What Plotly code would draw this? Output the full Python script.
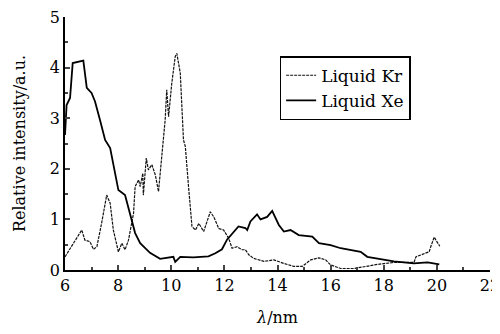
import plotly.graph_objects as go

# Liquid Xe (solid)
xe_x = [6.0, 6.06, 6.19, 6.29, 6.69, 6.82, 7.0, 7.13, 7.32, 7.51, 7.7, 7.89, 8.01, 8.26, 8.45,
        8.64, 8.83, 9.2, 9.58, 9.9, 10.08, 10.15, 10.34, 10.83, 11.4, 11.66, 11.91, 12.1, 12.29,
        12.53, 12.79, 12.86, 12.98, 13.23, 13.36, 13.61, 13.8, 14.05, 14.24, 14.49, 14.8, 15.31,
        15.56, 16.0, 16.38, 16.87, 17.13, 17.38, 17.89, 18.38, 19.13, 19.65, 20.09]
xe_y = [2.67, 3.26, 3.4, 4.09, 4.14, 3.6, 3.5, 3.33, 2.96, 2.57, 2.41, 1.94, 1.58, 1.48, 1.13,
        0.73, 0.53, 0.34, 0.22, 0.25, 0.26, 0.16, 0.26, 0.25, 0.27, 0.33, 0.41, 0.6, 0.72,
        0.86, 0.83, 0.79, 0.96, 1.1, 1.0, 1.05, 1.17, 0.89, 0.76, 0.79, 0.69, 0.66,
        0.53, 0.49, 0.43, 0.39, 0.36, 0.26, 0.21, 0.17, 0.13, 0.15, 0.11]

# Liquid Kr (dotted)
kr_x = [6.0, 6.31, 6.63, 6.75, 6.94, 7.07, 7.2, 7.38, 7.57, 7.7, 7.82, 8.01, 8.14, 8.26, 8.39,
        8.58, 8.64, 8.77, 8.83, 8.93, 8.95, 9.06, 9.14, 9.27, 9.4, 9.52, 9.65, 9.77, 9.83, 9.9,
        10.02, 10.15, 10.21, 10.34, 10.46, 10.53, 10.65, 10.78, 10.91, 11.04, 11.22, 11.47,
        11.6, 11.79, 11.97, 12.16, 12.29, 12.48, 12.67, 12.79, 12.92, 13.1, 13.49, 13.86,
        14.24, 14.62, 14.93, 15.25, 15.56, 15.81, 16.0, 16.38, 16.87, 17.25, 17.76, 18.38,
        18.83, 19.14, 19.21, 19.46, 19.71, 19.77, 19.9, 20.0, 20.11]
kr_y = [0.26, 0.53, 0.79, 0.59, 0.56, 0.41, 0.46, 0.93, 1.48, 1.32, 0.79, 0.36, 0.53, 0.4, 0.59,
        1.12, 1.65, 1.78, 1.65, 1.91, 1.48, 2.21, 1.98, 2.08, 1.88, 1.55, 2.24, 2.96, 3.56, 3.03,
        3.69, 4.22, 4.28, 3.89, 2.57, 2.44, 1.65, 0.86, 0.79, 0.92, 0.76, 1.15,
        1.05, 0.82, 0.79, 0.63, 0.43, 0.46, 0.4, 0.4, 0.3, 0.23, 0.17, 0.2,
        0.13, 0.07, 0.07, 0.2, 0.24, 0.2, 0.1, 0.03, 0.03, 0.07, 0.11, 0.15,
        0.15, 0.15, 0.26, 0.31, 0.36, 0.46, 0.65, 0.56, 0.47]

x_ticks = [6, 8, 10, 12, 14, 16, 18, 20, 22]
y_ticks = [0, 1, 2, 3, 4, 5]

FONT = "DejaVu Serif"

fig = go.Figure()
fig.add_trace(go.Scatter(x=kr_x, y=kr_y, mode="lines", name="Liquid Kr",
                         line=dict(color="#111", width=1.2, dash="3px,1px")))
fig.add_trace(go.Scatter(x=xe_x, y=xe_y, mode="lines", name="Liquid Xe",
                         line=dict(color="black", width=1.8)))

fig.update_layout(
    width=492, height=326,
    margin=dict(l=57, r=10, t=9, b=64),
    paper_bgcolor="white", plot_bgcolor="white",
    font=dict(family=FONT, size=16, color="black"),
    showlegend=True,
    legend=dict(x=0.505, y=0.845, xanchor="left", yanchor="top",
                bordercolor="black", borderwidth=1.5, bgcolor="white",
                font=dict(family=FONT, size=17, color="black"), tracegroupgap=0,
                itemwidth=30),
    xaxis=dict(range=[6, 22], tickvals=x_ticks, ticks="inside", ticklen=5, tickwidth=1.5,
               minor=dict(dtick=1, ticks="inside", ticklen=3, tickwidth=1.5),
               showline=True, linecolor="black", linewidth=1.5, showgrid=False,
               zeroline=False, automargin=False, ticklabeloverflow="allow",
               tickfont=dict(family=FONT, size=16, color="black"),
               title=dict(text="<i>λ</i>/nm", standoff=18,
                          font=dict(family=FONT, size=16, color="black"))),
    yaxis=dict(range=[0, 5], tickvals=y_ticks, ticks="inside", ticklen=5, tickwidth=1.5,
               minor=dict(dtick=0.5, ticks="inside", ticklen=3, tickwidth=1.5),
               showline=True, linecolor="black", linewidth=1.5, showgrid=False,
               zeroline=False, automargin=False, ticklabeloverflow="allow",
               tickfont=dict(family=FONT, size=16, color="black"),
               title=dict(text="Relative intensity/a.u.", standoff=20,
                          font=dict(family=FONT, size=16, color="black"))),
)

fig.write_html("out.html")
